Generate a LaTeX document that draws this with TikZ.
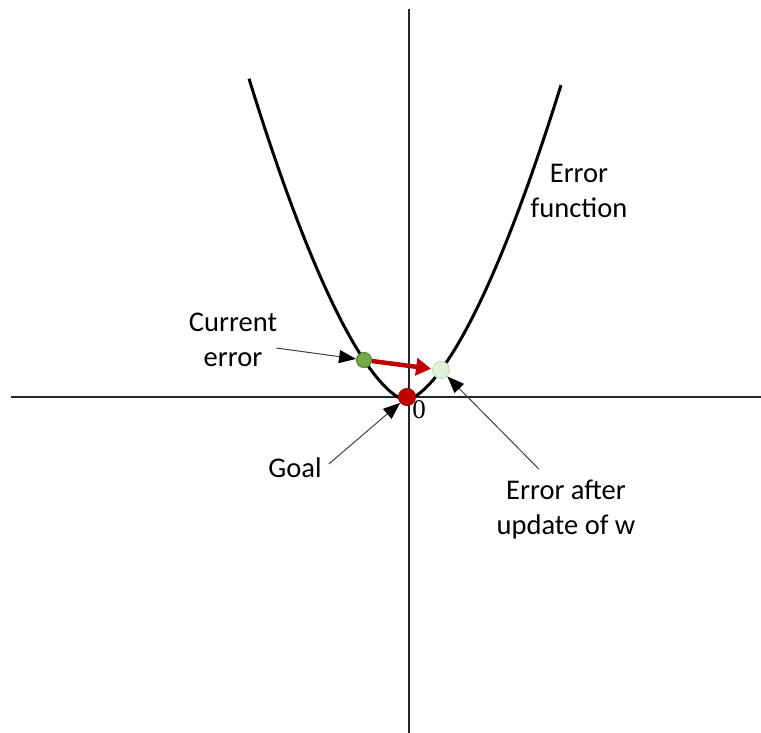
\documentclass[tikz,border=0pt]{standalone}
\usepackage{fontspec}
\setmainfont{Carlito}
\newfontfamily\zerofont{Liberation Serif}
\usepackage{xcolor}
\usetikzlibrary{arrows.meta,positioning}
\definecolor{dotgreen}{HTML}{70AD47}
\definecolor{dotgreenline}{HTML}{507E32}
\definecolor{palegreen}{HTML}{E2F0D9}
\definecolor{palegreenline}{HTML}{C5E0B4}
\definecolor{goalred}{HTML}{C00000}
\definecolor{goalredline}{HTML}{A00000}
\begin{document}
\begin{tikzpicture}[
  x=1pt, y=-1pt,
  axis/.style={draw=black!85, line width=1.3pt},
  curve/.style={draw=black, line width=3pt},
  dot/.style={circle, inner sep=0pt, line width=1pt},
  label/.style={align=center, font=\fontsize{28.5}{35}\selectfont, inner sep=3pt},
  pointer/.style={draw=black!75, line width=1pt, -{Triangle[length=17pt,width=13pt,color=black]}},
  step arrow/.style={draw=goalred, line width=4.5pt, -{Triangle[length=15pt,width=17pt]}, shorten >=1pt}
]
\useasboundingbox (0,0) rectangle (761,733);
% axes
\draw[axis] (11,397) -- (761,397);
\draw[axis] (409,9) -- (409,733);
% error function
\draw[curve] plot[domain=-157:155, samples=120] ({406+\x}, {400-0.109*(abs(\x)+0.01)^1.58});
\node[font=\zerofont\fontsize{27}{27}\selectfont, inner sep=0pt] (zero) at (419,410) {0};
% points on the curve
\node[dot, draw=dotgreenline, fill=dotgreen, minimum size=15pt] (now) at (364,360) {};
\node[dot, draw=palegreenline, fill=palegreen, minimum size=17pt] (next) at (441,370) {};
\node[dot, draw=goalredline, fill=goalred, minimum size=17pt] (min) at (407,397) {};
\draw[step arrow] (now) -- (next);
% labels
\node[label] (cur) at (233,340) {Current\\error};
\node[label] (goal) at (295,468) {Goal};
\node[label] (upd) at (566,510) {Error after\\update of w};
\node[label] (fun) at (579,191) {Error\\function};
\draw[pointer] ([xshift=-4pt,yshift=-8pt]cur.east) -- (now);
\draw[pointer] ([xshift=4pt,yshift=4pt]goal.east) -- (min);
\draw[pointer] ([xshift=-27pt,yshift=8pt]upd.north) -- (next);
\end{tikzpicture}
\end{document}
